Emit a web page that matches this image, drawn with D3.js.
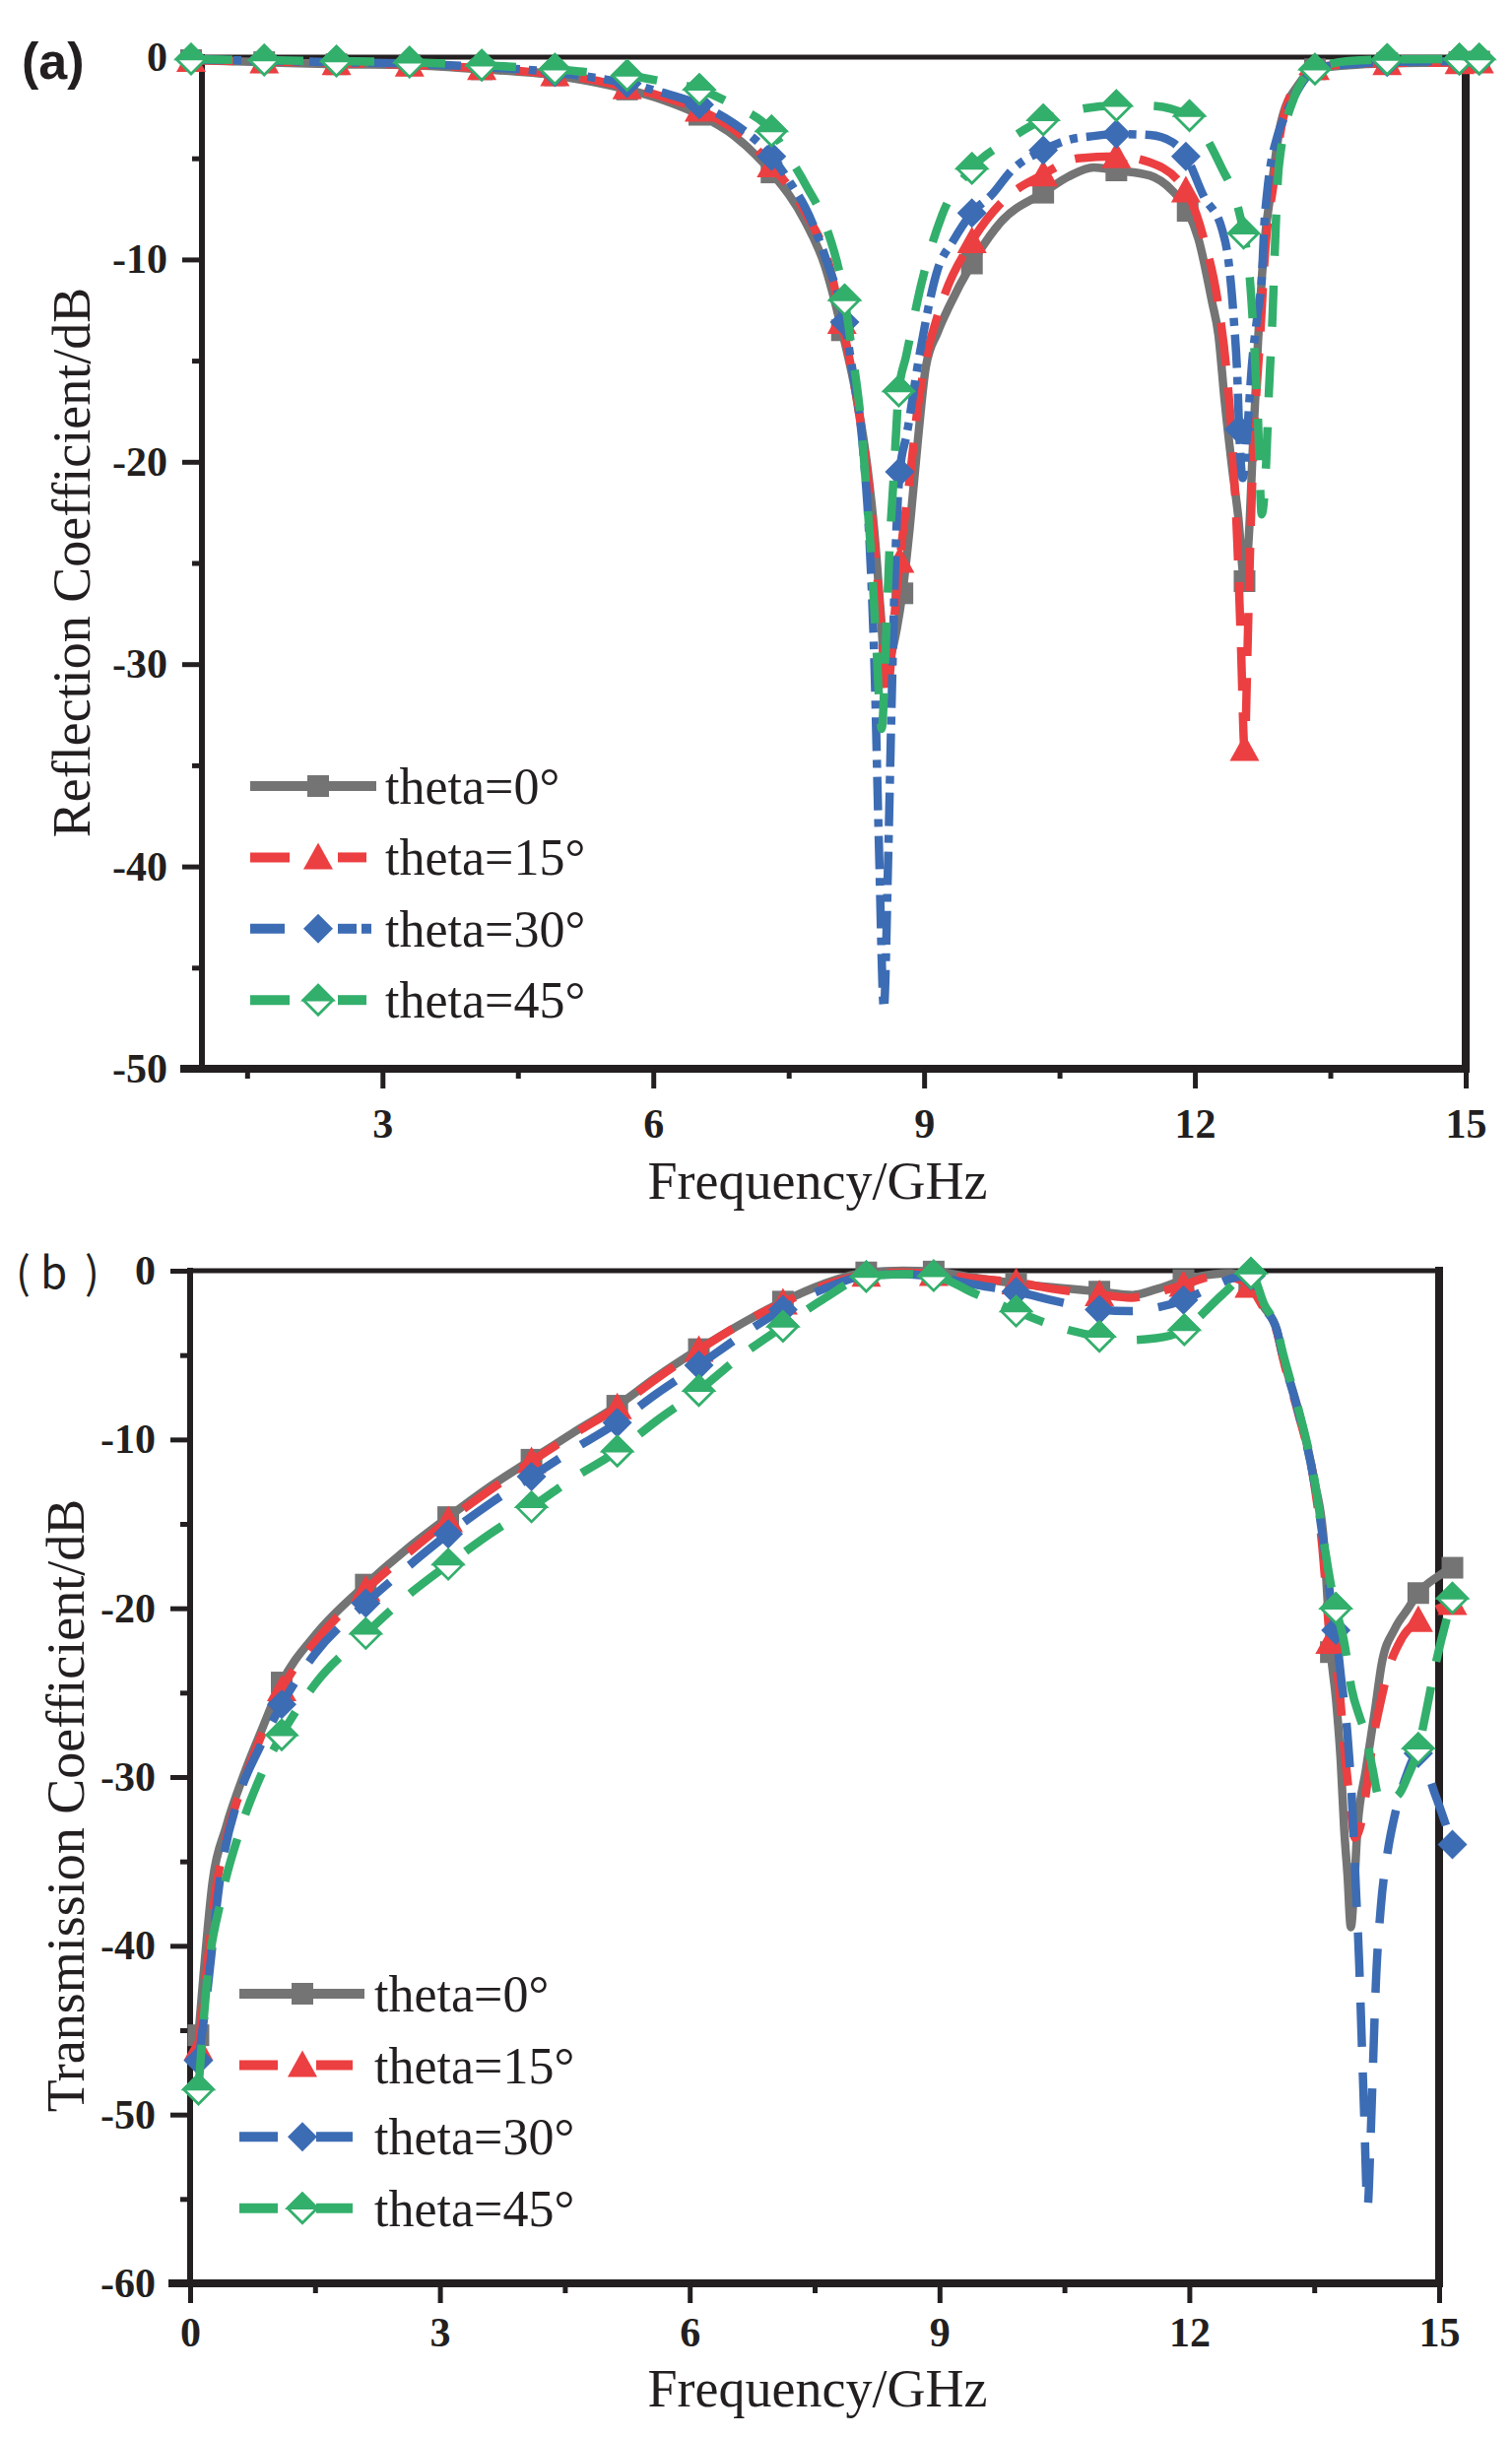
<!DOCTYPE html>
<html><head><meta charset="utf-8">
<script src="https://cdn.jsdelivr.net/npm/d3@7/dist/d3.min.js"></script>
<style>body{margin:0;background:#fff}svg{display:block}</style>
</head><body>
<svg id="chart" width="1535" height="2474"></svg>
<script>
// ---------------- DATA ----------------
const seriesLabels = ["theta=0°", "theta=15°", "theta=30°", "theta=45°"];

// Panel (a): Reflection coefficient (dB) vs frequency (GHz)
const xTicksA = [3, 6, 9, 12, 15];
const xMinorA = [1.5, 4.5, 7.5, 10.5, 13.5];
const yTicksA = [0, -10, -20, -30, -40, -50];
const yMinorA = [-5, -15, -25, -35, -45];

const reflTheta0 = [[0.88,-0.15],[1.69,-0.25],[2.49,-0.35],[3.30,-0.4],[4.10,-0.6],[4.91,-0.9],[5.3,-1.2],[5.71,-1.6],[6.1,-2.1],[6.51,-2.85],[6.9,-3.9],[7.31,-5.7],[7.68,-8.1],[7.9,-10.3],[8.09,-13.5],[8.26,-17],[8.37,-20.2],[8.45,-23.5],[8.52,-27.5],[8.57,-30.3],[8.63,-29.6],[8.7,-28.2],[8.76,-26.5],[8.84,-23.3],[8.93,-19],[9.02,-15.3],[9.15,-13.6],[9.28,-12.3],[9.53,-10.2],[9.86,-8.1],[10.32,-6.7],[10.6,-5.9],[10.88,-5.45],[11.13,-5.6],[11.5,-5.85],[11.75,-6.6],[11.92,-7.6],[12.04,-9],[12.19,-12.1],[12.26,-13.7],[12.33,-17],[12.41,-20.2],[12.48,-22.7],[12.55,-25.9],[12.6,-23.5],[12.64,-19.5],[12.7,-14],[12.77,-9.2],[12.85,-6.4],[12.95,-3.3],[13.14,-1.4],[13.33,-0.6],[13.7,-0.4],[14.13,-0.3],[14.93,-0.25],[15.15,-0.22]];
const reflTheta15 = [[0.88,-0.15],[1.69,-0.22],[2.49,-0.3],[3.30,-0.38],[4.10,-0.55],[4.91,-0.85],[5.3,-1.1],[5.71,-1.5],[6.1,-1.95],[6.51,-2.6],[6.9,-3.6],[7.31,-5.35],[7.7,-7.8],[7.95,-10.3],[8.09,-13.1],[8.25,-16.8],[8.37,-20.5],[8.47,-25],[8.54,-29],[8.59,-31.5],[8.64,-29.5],[8.68,-27.2],[8.73,-24.9],[8.85,-20.5],[8.93,-17.3],[9.0,-15.4],[9.2,-12.1],[9.53,-9.1],[9.9,-7.0],[10.32,-5.8],[10.7,-5.0],[11.13,-4.9],[11.5,-5.2],[11.9,-6.6],[12.1,-9.0],[12.25,-12],[12.35,-15.5],[12.42,-19.5],[12.47,-24],[12.51,-29],[12.55,-34.2],[12.59,-28],[12.62,-23],[12.67,-17.5],[12.72,-14],[12.78,-9.5],[12.87,-6.3],[12.96,-3.4],[13.15,-1.2],[13.33,-0.55],[13.7,-0.35],[14.13,-0.3],[14.93,-0.25],[15.15,-0.22]];
const reflTheta30 = [[0.88,-0.12],[1.69,-0.18],[2.49,-0.25],[3.30,-0.32],[4.10,-0.48],[4.91,-0.75],[5.3,-0.98],[5.71,-1.3],[6.1,-1.75],[6.51,-2.35],[6.9,-3.3],[7.31,-4.9],[7.53,-6.3],[7.68,-7.4],[7.93,-10.2],[8.12,-13.1],[8.19,-15],[8.33,-19.7],[8.39,-23.5],[8.45,-30],[8.5,-39],[8.555,-47],[8.6,-40],[8.64,-32],[8.68,-25],[8.73,-20.5],[8.81,-18.6],[8.95,-14.7],[9.15,-10.5],[9.32,-9.1],[9.53,-7.7],[9.75,-6.8],[9.97,-5.6],[10.32,-4.6],[10.59,-4.1],[10.88,-3.9],[11.13,-3.8],[11.5,-3.85],[11.75,-4.2],[11.9,-4.9],[12.1,-6.9],[12.3,-8.5],[12.37,-10],[12.43,-12.9],[12.47,-15.8],[12.49,-18.4],[12.53,-20.8],[12.58,-18.5],[12.63,-15.3],[12.7,-12.5],[12.74,-11],[12.77,-8.2],[12.8,-6.7],[12.92,-3.8],[13.0,-2.9],[13.2,-1.2],[13.33,-0.55],[13.7,-0.35],[14.13,-0.25],[14.93,-0.2],[15.15,-0.2]];
const reflTheta45 = [[0.88,-0.1],[1.69,-0.15],[2.49,-0.2],[3.30,-0.25],[4.10,-0.4],[4.91,-0.6],[5.3,-0.75],[5.71,-0.9],[6.1,-1.2],[6.51,-1.6],[6.9,-2.4],[7.31,-3.65],[7.5,-4.9],[7.7,-6.4],[7.9,-8.2],[8.12,-12],[8.2,-14.5],[8.3,-18],[8.37,-22],[8.42,-25],[8.47,-29],[8.53,-33.2],[8.58,-28.5],[8.62,-24],[8.66,-21],[8.72,-16.5],[8.8,-14.8],[8.97,-11.2],[9.2,-7.8],[9.53,-5.5],[9.9,-4.2],[10.32,-3.1],[10.6,-2.7],[11.13,-2.4],[11.5,-2.4],[11.94,-2.9],[12.1,-3.8],[12.3,-5.5],[12.45,-7],[12.54,-8.7],[12.6,-10.5],[12.66,-14.5],[12.7,-18],[12.74,-22.6],[12.79,-20],[12.82,-16.5],[12.86,-12.8],[12.89,-9],[12.93,-5.4],[13.1,-2.0],[13.33,-0.6],[13.7,-0.2],[14.13,-0.12],[14.93,-0.1],[15.15,-0.1]];

const reflMarks0  = [0.88,1.69,2.49,3.30,4.10,4.91,5.71,6.51,7.31,8.09,8.76,9.53,10.32,11.13,11.92,12.55,13.33,14.13,14.93,15.15];
const reflMarks15 = [0.88,1.69,2.49,3.30,4.10,4.91,5.71,6.51,7.31,8.09,8.73,9.53,10.32,11.13,11.9,12.55,13.33,14.13,14.93,15.15];
const reflMarks30 = [0.88,1.69,2.49,3.30,4.10,4.91,5.71,6.51,7.31,8.12,8.73,9.53,10.32,11.13,11.9,12.49,13.33,14.13,14.93,15.15];
const reflMarks45 = [0.88,1.69,2.49,3.30,4.10,4.91,5.71,6.51,7.31,8.12,8.72,9.53,10.32,11.13,11.94,12.54,13.33,14.13,14.93,15.15];

// Panel (b): Transmission coefficient (dB) vs frequency (GHz)
const xTicksB = [0, 3, 6, 9, 12, 15];
const xMinorB = [1.5, 4.5, 7.5, 10.5, 13.5];
const yTicksB = [0, -10, -20, -30, -40, -50, -60];
const yMinorB = [-5, -15, -25, -35, -45, -55];

const transTheta0 = [[0.1,-45.3],[0.16,-41.8],[0.27,-36.2],[0.43,-33.0],[0.65,-29.8],[0.86,-27.2],[1.10,-24.4],[1.5,-21.6],[2.11,-18.6],[2.6,-16.5],[3.10,-14.6],[3.6,-12.8],[4.10,-11.2],[4.6,-9.6],[5.13,-8.0],[5.6,-6.3],[6.11,-4.65],[6.6,-3.2],[7.12,-1.83],[7.6,-0.8],[8.12,-0.1],[8.56,0],[8.93,-0.05],[9.4,-0.4],[9.92,-0.75],[10.4,-1.0],[10.92,-1.24],[11.32,-1.44],[11.6,-1.1],[11.93,-0.56],[12.3,-0.2],[12.5,-0.15],[12.72,-0.8],[12.89,-2.1],[13.05,-3.5],[13.13,-5.2],[13.3,-8.1],[13.5,-12.4],[13.62,-16.3],[13.66,-19.5],[13.7,-22.6],[13.76,-25.3],[13.82,-29.2],[13.86,-33.1],[13.9,-35.8],[13.94,-38.9],[13.98,-36.5],[14.02,-33],[14.12,-29.6],[14.24,-25.7],[14.31,-23.3],[14.47,-21.2],[14.63,-20.0],[14.75,-19.1],[14.99,-18.1],[15.16,-17.6]];
const transTheta15 = [[0.1,-46.1],[0.2,-41.5],[0.3,-37],[0.45,-33.3],[0.65,-30.2],[0.86,-27.5],[1.10,-24.8],[1.5,-22],[2.11,-18.9],[2.6,-16.8],[3.10,-14.8],[3.6,-13],[4.10,-11.3],[4.6,-9.7],[5.13,-8.1],[5.6,-6.4],[6.11,-4.7],[6.6,-3.2],[7.12,-1.9],[7.6,-0.9],[8.12,-0.25],[8.56,-0.1],[8.93,-0.2],[9.4,-0.45],[9.92,-0.7],[10.4,-1.1],[10.92,-1.4],[11.3,-1.6],[11.6,-1.3],[11.93,-0.85],[12.3,-0.35],[12.5,-0.4],[12.72,-0.9],[12.89,-2.2],[13.05,-3.6],[13.13,-5.3],[13.3,-8.3],[13.5,-12.6],[13.6,-16.5],[13.65,-19.5],[13.69,-22],[13.8,-24.7],[13.86,-28.2],[13.93,-31.5],[13.99,-33.6],[14.05,-33],[14.12,-31],[14.2,-28],[14.3,-25.5],[14.4,-23.5],[14.55,-21.8],[14.75,-20.7],[15.0,-20.0],[15.16,-19.7]];
const transTheta30 = [[0.1,-46.8],[0.19,-43.4],[0.37,-35.7],[0.59,-31.1],[0.84,-28.2],[1.10,-25.7],[1.5,-22.7],[2.11,-19.7],[2.6,-17.6],[3.10,-15.6],[3.6,-13.8],[4.10,-12.2],[4.6,-10.6],[5.13,-9.0],[5.6,-7.3],[6.11,-5.6],[6.6,-3.9],[7.12,-2.3],[7.6,-1.1],[8.12,-0.3],[8.56,-0.2],[8.93,-0.35],[9.4,-0.8],[9.92,-1.24],[10.4,-1.8],[10.92,-2.3],[11.3,-2.4],[11.6,-2.2],[11.93,-1.73],[12.3,-0.9],[12.55,-0.4],[12.74,-0.3],[12.89,-2.1],[13.05,-3.5],[13.13,-5.2],[13.3,-8.2],[13.5,-12.5],[13.62,-16.4],[13.7,-19.5],[13.76,-21.3],[13.82,-24],[13.9,-27.5],[13.96,-32],[14.0,-36.5],[14.04,-41],[14.07,-45.5],[14.1,-50],[14.14,-55.5],[14.18,-51],[14.21,-46.5],[14.24,-42.3],[14.3,-37.7],[14.38,-34.5],[14.48,-32],[14.6,-30],[14.75,-28.6],[14.95,-31],[15.16,-34]];
const transTheta45 = [[0.1,-48.5],[0.21,-41.8],[0.37,-37.3],[0.59,-33.3],[0.86,-29.8],[1.10,-27.5],[1.5,-24.5],[2.11,-21.5],[2.6,-19.3],[3.10,-17.4],[3.6,-15.6],[4.10,-14.0],[4.6,-12.3],[5.13,-10.7],[5.6,-8.9],[6.11,-7.1],[6.6,-5.1],[7.12,-3.3],[7.6,-1.7],[8.12,-0.35],[8.56,-0.2],[8.93,-0.3],[9.4,-1.3],[9.92,-2.4],[10.4,-3.3],[10.92,-3.9],[11.3,-4.1],[11.6,-4.0],[11.94,-3.5],[12.15,-2.6],[12.4,-1.4],[12.74,-0.15],[12.9,-2.0],[13.05,-3.4],[13.13,-5.0],[13.3,-8.0],[13.5,-12.3],[13.62,-16.2],[13.7,-18.6],[13.76,-20.0],[13.86,-22],[13.95,-24.8],[14.05,-26.5],[14.12,-27.5],[14.2,-29.5],[14.28,-31.2],[14.42,-31.3],[14.52,-31],[14.62,-30],[14.75,-28.3],[14.85,-26],[14.95,-23.5],[15.16,-19.4]];

const transMarks0  = [0.1,1.10,2.11,3.10,4.10,5.13,6.11,7.12,8.12,8.93,9.92,10.92,11.93,12.72,13.7,14.75,15.16];
const transMarks15 = [0.1,1.10,2.11,3.10,4.10,5.13,6.11,7.12,8.12,8.93,9.92,10.92,11.93,12.72,13.69,14.75,15.16];
const transMarks30 = [0.1,1.10,2.11,3.10,4.10,5.13,6.11,7.12,8.12,8.93,9.92,10.92,11.93,12.74,13.76,14.75,15.16];
const transMarks45 = [0.1,1.10,2.11,3.10,4.10,5.13,6.11,7.12,8.12,8.93,9.92,10.92,11.94,12.74,13.76,14.75,15.16];

// ---------------- STYLE ----------------
const colors = ["#747474", "#EC3F41", "#3C6CB4", "#33AF6C"];
const shapes = ["square", "triangle", "diamond", "halfDiamond"];
const SERIF = "'Liberation Serif','Times New Roman',serif";

const svg = d3.select("#chart");

function markerPaths(type) {
  if (type === "square") return [{d: "M-11,-11H11V11H-11Z", fill: true}];
  if (type === "triangle") return [{d: "M0,-15L15,12L-15,12Z", fill: true}];
  if (type === "diamond") return [{d: "M0,-15L15,0L0,15L-15,0Z", fill: true}];
  return [{d: "M0,-15L15,0L0,15L-15,0Z", fill: false}, {d: "M0,-15L15,0L-15,0Z", fill: true}];
}
function drawMarker(g, type, color, cx, cy) {
  const m = g.append("g").attr("transform", `translate(${cx},${cy})`);
  markerPaths(type).forEach(p => {
    const el = m.append("path").attr("d", p.d);
    if (p.fill) el.attr("fill", color).attr("stroke", type === "halfDiamond" ? color : "none").attr("stroke-width", 2.5).attr("stroke-linejoin", "miter");
    else el.attr("fill", "#fff").attr("stroke", color).attr("stroke-width", 2.8);
  });
}

function drawPanel(cfg) {
  const x = d3.scaleLinear().domain(cfg.xDomain).range([cfg.left, cfg.right]);
  const y = d3.scaleLinear().domain(cfg.yDomain).range([cfg.bottom, cfg.top]);
  const g = svg.append("g");

  const styleAxis = (ax) => {
    ax.select(".domain").remove();
    ax.selectAll(".tick line").attr("stroke", "#231f20").attr("stroke-width", 5);
    ax.selectAll(".tick text").attr("fill", "#231f20").style("font-family", SERIF)
      .style("font-weight", "bold").style("font-size", "42px");
  };
  const yAx = g.append("g").attr("transform", `translate(${cfg.left},0)`)
    .call(d3.axisLeft(y).tickValues(cfg.yTicks).tickSize(20).tickPadding(15).tickFormat(d => String(d)));
  styleAxis(yAx);
  const yMin = g.append("g").attr("transform", `translate(${cfg.left},0)`)
    .call(d3.axisLeft(y).tickValues(cfg.yMinor).tickSize(10).tickFormat(""));
  styleAxis(yMin);
  const xAx = g.append("g").attr("transform", `translate(0,${cfg.bottom})`)
    .call(d3.axisBottom(x).tickValues(cfg.xTicks).tickSize(20).tickPadding(cfg.xPad).tickFormat(d => String(d)));
  styleAxis(xAx);
  const xMin = g.append("g").attr("transform", `translate(0,${cfg.bottom})`)
    .call(d3.axisBottom(x).tickValues(cfg.xMinor).tickSize(10).tickFormat(""));
  styleAxis(xMin);

  // frame
  const [x0, x1] = cfg.xDomain, [y0, y1] = cfg.yDomain;
  const frame = (xa, ya, xb, yb, w) => g.append("line").attr("x1", xa).attr("y1", ya).attr("x2", xb).attr("y2", yb)
    .attr("stroke", "#231f20").attr("stroke-width", w).attr("stroke-linecap", "square");
  frame(x(x0), y(y1), x(x1), y(y1), 5);
  frame(x(x1), y(y1), x(x1), y(y0), 8);
  frame(x(x0), y(y1), x(x0), y(y0), 6);
  frame(x(x0) - 18, y(y0), x(x1), y(y0), 8);

  // series
  const line = d3.line().x(d => x(d[0])).y(d => y(d[1])).curve(d3.curveMonotoneX);
  cfg.series.forEach((s, i) => {
    g.append("path").attr("d", line(s.data)).attr("fill", "none")
      .attr("stroke", colors[i]).attr("stroke-width", 8.5)
      .attr("stroke-dasharray", cfg.dashes[i]).attr("stroke-linejoin", "round");
    s.marks.forEach(f => {
      const p = s.data.find(d => d[0] === f);
      if (p) drawMarker(g, shapes[i], colors[i], x(p[0]), y(p[1]));
    });
  });

  // legend
  const lg = g.append("g");
  seriesLabels.forEach((lab, i) => {
    const ry = cfg.legendY + i * cfg.legendStep;
    const L = cfg.legendX;
    if (i === 0) {
      lg.append("line").attr("x1", L).attr("x2", L + cfg.legendLen).attr("y1", ry).attr("y2", ry)
        .attr("stroke", colors[i]).attr("stroke-width", 10);
    } else {
      cfg.legendSegs[i].forEach(sg => {
        lg.append("line").attr("x1", L + sg[0]).attr("x2", L + sg[1]).attr("y1", ry).attr("y2", ry)
          .attr("stroke", colors[i]).attr("stroke-width", 10);
      });
    }
    drawMarker(lg, shapes[i], colors[i], L + cfg.legendMark, ry);
    lg.append("text").attr("x", L + cfg.legendText).attr("y", ry + 18)
      .attr("fill", "#231f20").style("font-family", SERIF).style("font-size", "52px").text(lab);
  });

  // titles
  g.append("text").attr("x", cfg.xTitleX).attr("y", cfg.xTitleY).attr("text-anchor", "middle")
    .attr("fill", "#231f20").style("font-family", SERIF).style("font-size", "54px").text("Frequency/GHz");
  g.append("text").attr("transform", `translate(${cfg.yTitleX},${cfg.yTitleY}) rotate(-90)`).attr("text-anchor", "middle")
    .attr("fill", "#231f20").style("font-family", SERIF).style("font-size", "54px").text(cfg.yTitle);
}

drawPanel({
  xDomain: [1, 15], yDomain: [-50, 0],
  left: 205, right: 1488, top: 58, bottom: 1085,
  xTicks: xTicksA, xMinor: xMinorA, yTicks: yTicksA, yMinor: yMinorA, xPad: 20,
  series: [
    {data: reflTheta0, marks: reflMarks0},
    {data: reflTheta15, marks: reflMarks15},
    {data: reflTheta30, marks: reflMarks30},
    {data: reflTheta45, marks: reflMarks45}
  ],
  dashes: ["none", "44,22", "34,9,8,9", "42,30"],
  legendX: 254, legendY: 798, legendStep: 72.4, legendLen: 128, legendMark: 69, legendText: 137,
  legendSegs: [null, [[0, 40], [89, 118]], [[0, 35], [89, 108], [113, 123]], [[0, 40], [89, 118]]],
  xTitleX: 830, xTitleY: 1217, yTitleX: 91, yTitleY: 571, yTitle: "Reflection Coefficient/dB"
});

drawPanel({
  xDomain: [0, 15], yDomain: [-60, 0],
  left: 193, right: 1461, top: 1290, bottom: 2318,
  xTicks: xTicksB, xMinor: xMinorB, yTicks: yTicksB, yMinor: yMinorB, xPad: 14,
  series: [
    {data: transTheta0, marks: transMarks0},
    {data: transTheta15, marks: transMarks15},
    {data: transTheta30, marks: transMarks30},
    {data: transTheta45, marks: transMarks45}
  ],
  dashes: ["none", "45,26", "45,26", "45,26"],
  legendX: 243, legendY: 2024, legendStep: 72.6, legendLen: 127, legendMark: 64, legendText: 137,
  legendSegs: [null, [[0, 39], [78, 115]], [[0, 39], [78, 115]], [[0, 39], [78, 115]]],
  xTitleX: 830, xTitleY: 2443, yTitleX: 85, yTitleY: 1833, yTitle: "Transmission Coefficient/dB"
});

// panel labels
svg.append("text").attr("x", 22).attr("y", 80).attr("fill", "#231f20")
  .style("font-family", "'Liberation Sans',Arial,sans-serif").style("font-weight", "bold").style("font-size", "52px").text("(a)");
const lb = svg.append("text").attr("x", 16).attr("y", 1308).attr("fill", "#231f20")
  .style("font-family", "'Noto Sans CJK SC','Noto Sans',sans-serif").style("font-size", "44px");
lb.append("tspan").text("(");
lb.append("tspan").attr("dx", 10).text("b");
lb.append("tspan").attr("dx", 18).text(")");
</script>
</body></html>
